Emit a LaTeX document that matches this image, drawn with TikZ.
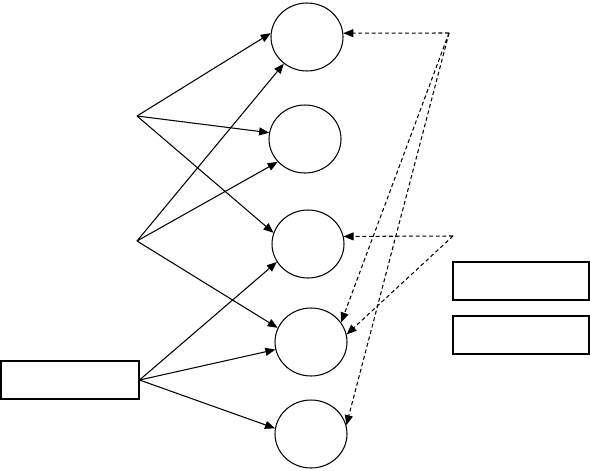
\documentclass[tikz,border=0pt]{standalone}
\usepackage{tikz}
\usetikzlibrary{shapes.geometric,arrows.meta}

\begin{document}
\begin{tikzpicture}[x=0.02cm, y=-0.02cm, line width=0.6pt,
    blob/.style={draw, ellipse, inner sep=0pt, minimum width=1.44cm, minimum height=1.36cm},
    box/.style={draw, rectangle, inner sep=0pt, minimum width=2.72cm, minimum height=0.76cm},
    link/.style={-{Triangle[length=2mm,width=1.6mm]}},
    hint/.style={link, dash pattern=on 2.2pt off 1.6pt}]
        \useasboundingbox (0,0) rectangle (590,470);
        % the five ellipses
        \node[blob] (e1) at (307,37) {};
        \node[blob] (e2) at (305,139) {};
        \node[blob] (e3) at (308,244) {};
        \node[blob] (e4) at (311,342) {};
        \node[blob] (e5) at (311,434) {};
        % boxes
        \node[box, minimum width=2.76cm] (src) at (70,380) {};
        \node[box] (r1) at (521,281) {};
        \node[box] (r2) at (521,335) {};
        % fan points
        \coordinate (p1) at (137,116);
        \coordinate (p2) at (137,241);
        \coordinate (d1) at (449,33);
        \coordinate (d2) at (453,236);
        % solid arrows
        \draw[link] (p1) -- (e1.174);
        \draw[link] (p1) -- (e2.170);
        \draw[link] (p1) -- (e3.162);
        \draw[link] (p2) -- (e1.229);
        \draw[link] (p2) -- (e2.220);
        \draw[link] (p2) -- (e4.157);
        \draw[link] (src.east) -- (e3.210);
        \draw[link] (src.east) -- (e4.192);
        \draw[link] (src.east) -- (e5.171);
        % dashed arrows
        \draw[hint] (d1) -- (e1.6);
        \draw[hint] (d1) -- (e4.33);
        \draw[hint] (d1) -- (e5.14);
        \draw[hint] (d2) -- (e3.12);
        \draw[hint] (d2) -- (e4.12);
      \end{tikzpicture}
\end{document}
